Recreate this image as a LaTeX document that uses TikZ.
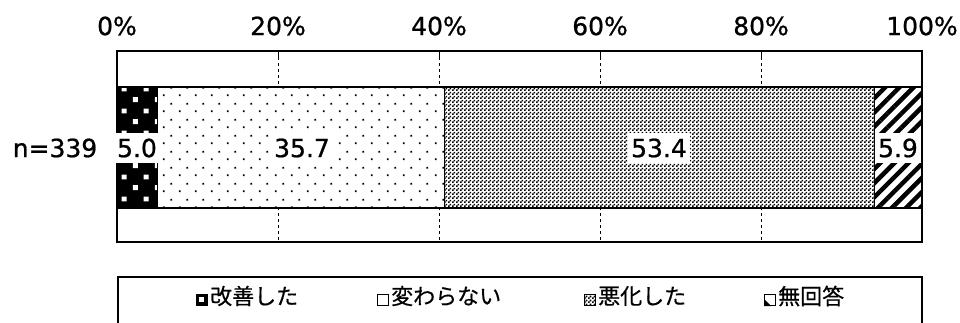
\documentclass[tikz,border=0pt]{standalone}
\usepackage{fontspec}
\setmainfont{DejaVu Sans}[FakeBold=0.8]
\newfontfamily\jpfont{Noto Sans CJK JP}[FakeBold=0.5]
\usetikzlibrary{positioning,patterns,patterns.meta}

\pgfdeclarepatternformonly{finechecks}{\pgfpointorigin}{\pgfpoint{4pt}{4pt}}{\pgfpoint{4pt}{4pt}}{
  \pgfpathrectangle{\pgfpointorigin}{\pgfpoint{2pt}{2pt}}
  \pgfpathrectangle{\pgfpoint{2pt}{2pt}}{\pgfpoint{2pt}{2pt}}
  \pgfusepath{fill}}
\pgfdeclarepatternformonly{sparsedots}{\pgfpointorigin}{\pgfpoint{16pt}{16pt}}{\pgfpoint{16pt}{16pt}}{
  \pgfpathrectangle{\pgfpoint{3pt}{3pt}}{\pgfpoint{1.8pt}{1.8pt}}
  \pgfpathrectangle{\pgfpoint{11pt}{11pt}}{\pgfpoint{1.8pt}{1.8pt}}
  \pgfusepath{fill}}
\pgfdeclarepatternformonly{whitesquares}{\pgfpointorigin}{\pgfpoint{22pt}{22pt}}{\pgfpoint{22pt}{22pt}}{
  \pgfpathrectangle{\pgfpoint{1pt}{1pt}}{\pgfpoint{5pt}{5pt}}
  \pgfpathrectangle{\pgfpoint{12pt}{12pt}}{\pgfpoint{5pt}{5pt}}
  \pgfusepath{fill}}

\begin{document}
\begin{tikzpicture}[x=1pt,y=-1pt]
        \tikzstyle{every node}=[font=\fontsize{25}{29}\selectfont]
        \tikzstyle{value}=[fill=white,inner xsep=3pt,inner ysep=6pt]
        \tikzstyle{marker}=[draw=black,line width=1pt,minimum size=11pt,inner sep=0pt]
        \tikzstyle{legtext}=[font=\jpfont\fontsize{22}{26}\selectfont,inner sep=1pt,anchor=west]
        \useasboundingbox (0,0) rectangle (960,322);

        % axis and grid
        \foreach \p in {20,40,60,80} {
            \draw[dashed,line width=0.8pt] ({117+8.05*\p},51) -- ({117+8.05*\p},242);
            \draw[line width=1pt] ({117+8.05*\p},51) -- ({117+8.05*\p},57);
        }
        \foreach \p in {0,20,40,60,80,100}
            \node (tick\p) at ({117+8.05*\p},26) {\p\%};
        \draw[line width=1.4pt] (117,51) rectangle (922,242);

        % bar
        \fill[black] (117,87) rectangle (157.25,208);
        \fill[pattern=whitesquares,pattern color=white] (117,87) rectangle (157.25,208);
        \fill[white] (157.25,87) rectangle (444.6,208);
        \fill[pattern=sparsedots] (157.25,87) rectangle (444.6,208);
        \fill[white] (444.6,87) rectangle (874.5,208);
        \fill[pattern=finechecks] (444.6,87) rectangle (874.5,208);
        \fill[white] (874.5,87) rectangle (922,208);
        \fill[pattern={Lines[angle=45,distance=10pt,line width=4.5pt]}] (874.5,87) rectangle (922,208);
        \draw[line width=1.4pt] (117,87) rectangle (922,208);
        \foreach \x in {157.25,444.6,874.5}
            \draw[line width=1.2pt] (\x,87) -- (\x,208);

        \node (n) at (55,148) {n=339};
        \node[value] (v1) at (137,148) {5.0};
        \node[value] (v2) at (302,148) {35.7};
        \node[value] (v3) at (659,148) {53.4};
        \node[value] (v4) at (898,148) {5.9};

        % legend
        \draw[line width=1.4pt] (118,277) rectangle (922,340);
        \node[marker,fill=black] (mk1) at (202,300) {};
        \fill[white] (198.5,296.5) rectangle (203.5,301.5);
        \node[legtext,right=1pt of mk1,yshift=4pt] (lg1) {改善した};
        \node[marker,fill=white] (mk2) at (383,300) {};
        \node[legtext,right=1pt of mk2,yshift=4pt] (lg2) {変わらない};
        \node[marker,pattern=finechecks] (mk3) at (590,300) {};
        \node[legtext,right=1pt of mk3,yshift=4pt] (lg3) {悪化した};
        \node[marker,fill=white] (mk4) at (770,300) {};
        \fill (mk4.south west) -- ([yshift=7pt]mk4.south west) -- ([xshift=7pt]mk4.south west) -- cycle;
        \node[legtext,right=1pt of mk4,yshift=4pt] (lg4) {無回答};
    \end{tikzpicture}
\end{document}
